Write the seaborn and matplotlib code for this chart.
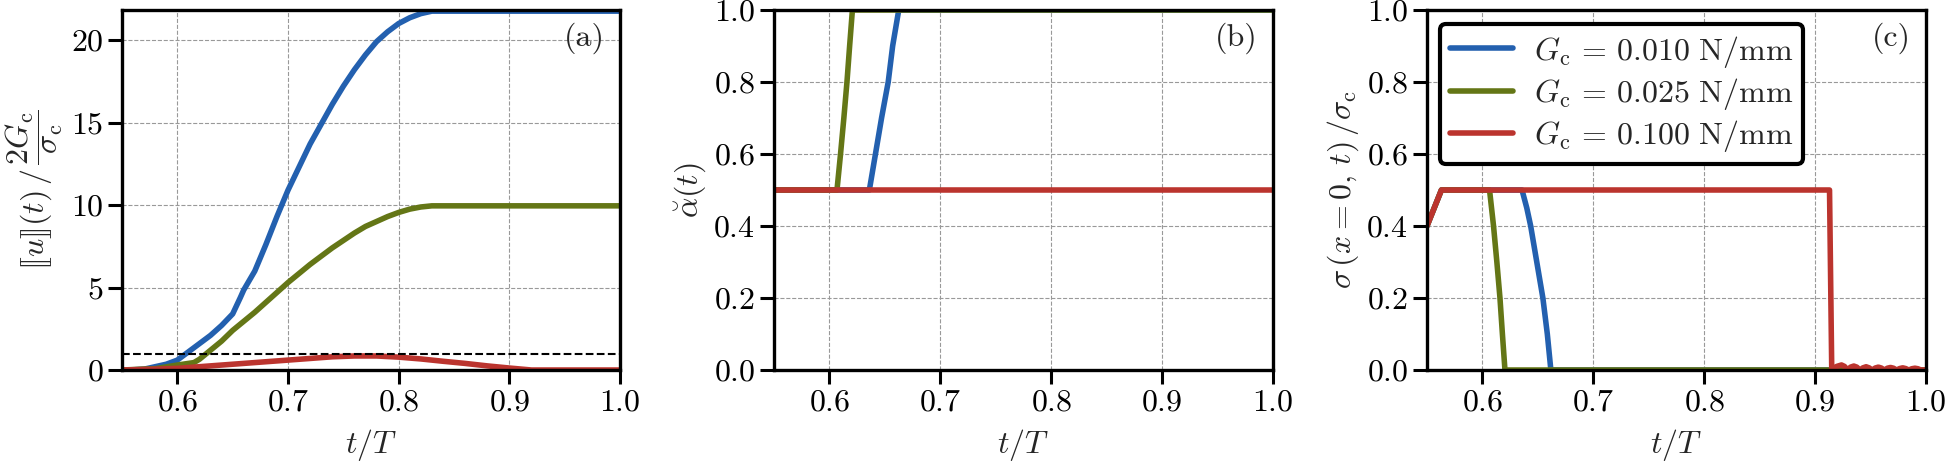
import numpy as np
import pandas as pd
import matplotlib
matplotlib.use("Agg")
import matplotlib.pyplot as plt
import seaborn as sns

# ---------------- data ----------------
labels = [r"$G_\mathrm{c}\, =\, 0.010\ \mathrm{N/mm}$",
          r"$G_\mathrm{c}\, =\, 0.025\ \mathrm{N/mm}$",
          r"$G_\mathrm{c}\, =\, 0.100\ \mathrm{N/mm}$"]
colors = ["#2360AF", "#647616", "#BB342E"]

# panel (a): jump / (2Gc/sigma_c)
t_a_blue = [0.55, 0.56, 0.57, 0.58, 0.59, 0.60, 0.61, 0.62, 0.63, 0.64, 0.65, 0.657,
            0.66, 0.67, 0.68, 0.69, 0.70, 0.71, 0.72, 0.73, 0.74, 0.75, 0.76, 0.77,
            0.78, 0.79, 0.80, 0.81, 0.82, 0.83, 1.00]
jump_blue = [0.0, 0.01, 0.05, 0.2, 0.35, 0.6, 1.1, 1.6, 2.1, 2.7, 3.4, 4.4,
             4.85, 6.0, 7.6, 9.3, 10.9, 12.3, 13.7, 14.9, 16.1, 17.2, 18.2, 19.1,
             19.9, 20.5, 21.0, 21.35, 21.6, 21.75, 21.75]
t_a_green = [0.55, 0.58, 0.60, 0.615, 0.62, 0.63, 0.64, 0.65, 0.66, 0.67, 0.68, 0.69,
             0.70, 0.71, 0.72, 0.73, 0.74, 0.75, 0.76, 0.77, 0.78, 0.79, 0.80, 0.81,
             0.82, 0.83, 1.00]
jump_green = [0.0, 0.08, 0.3, 0.45, 0.65, 1.2, 1.75, 2.4, 2.95, 3.5, 4.1, 4.7,
              5.3, 5.85, 6.4, 6.9, 7.4, 7.85, 8.3, 8.7, 9.0, 9.3, 9.55, 9.75,
              9.88, 9.95, 9.95]
t_a_red = [0.55, 0.58, 0.60, 0.62, 0.65, 0.68, 0.70, 0.72, 0.74, 0.76, 0.78, 0.80,
           0.82, 0.84, 0.86, 0.88, 0.90, 0.91, 0.92, 1.00]
jump_red = [0.0, 0.05, 0.1, 0.2, 0.35, 0.5, 0.6, 0.7, 0.8, 0.85, 0.85, 0.78,
            0.67, 0.53, 0.4, 0.25, 0.12, 0.06, 0.0, 0.0]
jump_threshold = 1.0

# panel (b): alpha breve
t_b_blue = [0.55, 0.636, 0.6415, 0.647, 0.653, 0.657, 0.6625, 1.0]
alpha_blue = [0.5, 0.5, 0.6, 0.7, 0.8, 0.9, 1.0, 1.0]
t_b_green = [0.55, 0.6068, 0.6100, 0.6130, 0.6158, 0.6182, 0.6207, 1.0]
alpha_green = [0.5, 0.5, 0.6, 0.7, 0.8, 0.9, 1.0, 1.0]
t_b_red = [0.55, 1.0]
alpha_red = [0.5, 0.5]

# panel (c): sigma(x=0,t)/sigma_c
t_c_blue = [0.55, 0.563, 0.6357, 0.640, 0.6435, 0.649, 0.6545, 0.6585, 0.6617, 1.0]
sig_blue = [0.4, 0.5, 0.5, 0.45, 0.4, 0.3, 0.2, 0.1, 0.0, 0.0]
t_c_green = [0.55, 0.563, 0.6064, 0.610, 0.613, 0.6158, 0.618, 0.6203, 1.0]
sig_green = [0.4, 0.5, 0.5, 0.4, 0.3, 0.2, 0.1, 0.0, 0.0]
t_c_red = [0.550, 0.563, 0.9130, 0.9150, 0.9195, 0.9238, 0.9265, 0.9293, 0.9320, 0.9349,
           0.9376, 0.9404, 0.9431, 0.9460, 0.9487, 0.9515, 0.9542, 0.9570, 0.9597,
           0.9625, 0.9652, 0.9680, 0.9707, 0.9735, 0.9762, 0.9790, 0.9817, 0.9845,
           0.9872, 0.9900, 0.9927, 0.9955, 1.0]
sig_red = [0.40, 0.50, 0.50, 0.0, 0.010, 0.014, 0.010, 0.0, 0.008, 0.011,
           0.008, 0.0, 0.006, 0.009, 0.006, 0.0, 0.0055, 0.008, 0.0055,
           0.0, 0.005, 0.007, 0.005, 0.0, 0.004, 0.006, 0.004, 0.0,
           0.0035, 0.005, 0.0035, 0.0, 0.0]

x_ticks = [0.6, 0.7, 0.8, 0.9, 1.0]
y_ticks_a = [0, 5, 10, 15, 20]
y_ticks_bc = [0.0, 0.2, 0.4, 0.6, 0.8, 1.0]
panel_tags = ["(a)", "(b)", "(c)"]

# ---------------- style ----------------
FS = 23
sns.set_theme(style="ticks")
plt.rcParams.update({
    "font.family": ["serif"],
    "font.serif": ["cmr10", "DejaVu Serif"],
    "mathtext.fontset": "cm",
    "axes.formatter.use_mathtext": True,
    "font.size": FS,
    "axes.labelsize": FS,
    "xtick.labelsize": FS,
    "ytick.labelsize": FS,
    "axes.linewidth": 2.4,
    "xtick.major.width": 2.2,
    "ytick.major.width": 2.2,
    "xtick.major.size": 10,
    "ytick.major.size": 10,
    "xtick.direction": "out",
    "ytick.direction": "out",
    "axes.edgecolor": "black",
    "xtick.color": "black",
    "ytick.color": "black",
    "axes.unicode_minus": False,
})

fig = plt.figure(figsize=(19.46, 4.72), dpi=100)
W, H = 1946.0, 472.0
bottom = 102 / H
height = 360 / H
ax_a = fig.add_axes([122 / W, bottom, 498 / W, height])
ax_b = fig.add_axes([774 / W, bottom, 499 / W, height])
ax_c = fig.add_axes([1427 / W, bottom, 499 / W, height])

LW = 4.0


def draw(ax, series):
    for (tt, yy), col, lab in zip(series, colors, labels):
        df = pd.DataFrame({"t": tt, "y": yy})
        sns.lineplot(data=df, x="t", y="y", ax=ax, color=col, lw=LW,
                     sort=False, estimator=None, label=lab, legend=False)


draw(ax_a, [(t_a_blue, jump_blue), (t_a_green, jump_green), (t_a_red, jump_red)])
ax_a.axhline(jump_threshold, color="black", ls="--", lw=1.5, zorder=3)
draw(ax_b, [(t_b_blue, alpha_blue), (t_b_green, alpha_green), (t_b_red, alpha_red)])
draw(ax_c, [(t_c_blue, sig_blue), (t_c_green, sig_green), (t_c_red, sig_red)])

ax_a.set_ylim(0, 21.82)
ax_a.set_yticks(y_ticks_a)
ax_a.set_ylabel(r"$[\![u]\!](t)\,/\,\dfrac{2G_\mathrm{c}}{\sigma_\mathrm{c}}$", labelpad=4)
ax_b.set_ylim(0, 1.0)
ax_b.set_yticks(y_ticks_bc)
ax_b.set_ylabel(r"$\breve{\alpha}(t)$")
ax_c.set_ylim(0, 1.0)
ax_c.set_yticks(y_ticks_bc)
ax_c.set_ylabel(r"$\sigma\,(x=0,\,t)\,/\sigma_\mathrm{c}$")

for ax, tag in zip([ax_a, ax_b, ax_c], panel_tags):
    ax.set_xlim(0.55, 1.0)
    ax.set_xticks(x_ticks)
    ax.set_xlabel(r"$t/T$", labelpad=8)
    ax.set_axisbelow(True)
    ax.grid(True, ls="--", lw=0.8, color="0.6")
    for s in ax.spines.values():
        s.set_visible(True)
        s.set_linewidth(2.4)
        s.set_color("black")
    ax.text(0.97, 0.965, tag, transform=ax.transAxes, ha="right", va="top", fontsize=FS)

handles, labs = ax_c.get_legend_handles_labels()
leg = ax_c.legend(handles, labs, loc="upper left", bbox_to_anchor=(0.026, 0.961),
                  borderaxespad=0.0, frameon=True, fancybox=True, framealpha=1.0,
                  edgecolor="black", fontsize=FS, handlelength=2.0,
                  handletextpad=0.65, labelspacing=0.2, borderpad=0.3)
leg.get_frame().set_linewidth(3.0)

fig.savefig("out.png", dpi=100)
